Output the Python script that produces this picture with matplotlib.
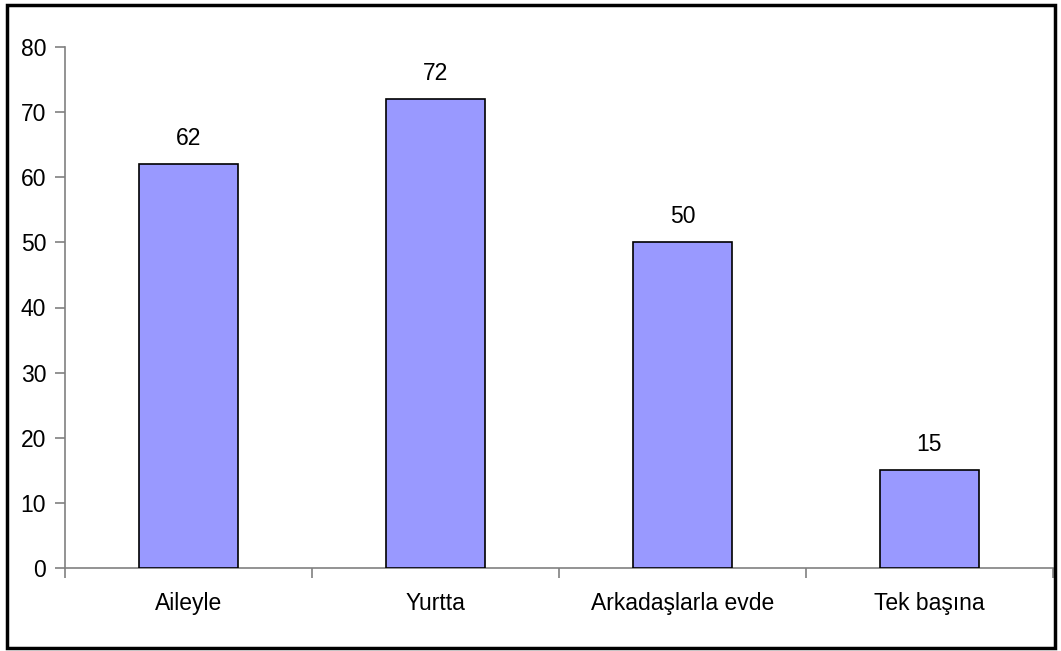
import matplotlib.pyplot as plt
import matplotlib.patches as mpatches
import numpy as np

# data
categories = ["Aileyle", "Yurtta", "Arkadaşlarla evde", "Tek başına"]
values = [62, 72, 50, 15]
y_ticks = [0, 10, 20, 30, 40, 50, 60, 70, 80]

plt.rcParams["font.family"] = ["Liberation Sans", "DejaVu Sans"]

BAR_COLOUR = "#9999FF"
AXIS_COLOUR = "#808080"
FONT_SIZE = 16.5

fig = plt.figure(figsize=(10.61, 6.51), dpi=100)
ax = fig.add_axes([65 / 1061, 1 - 568 / 651, (1053 - 65) / 1061, (568 - 47) / 651])

x = np.arange(len(categories))
bars = ax.bar(x, values, width=0.4, color=BAR_COLOUR, edgecolor="black", linewidth=1.2, zorder=3)

ax.set_xlim(-0.5, len(categories) - 0.5)
ax.set_ylim(0, 80)
ax.set_yticks(y_ticks)

# category labels, tick marks on the boundaries between categories
ax.set_xticks(x)
ax.set_xticklabels(categories, fontsize=FONT_SIZE)
ax.tick_params(axis="x", which="major", length=0, pad=17.5)
ax.set_xticks(np.arange(len(categories) + 1) - 0.5, minor=True)
ax.tick_params(axis="x", which="minor", length=7, direction="out", color=AXIS_COLOUR, width=1.2)
ax.tick_params(axis="y", length=7, direction="out", color=AXIS_COLOUR, width=1.2,
               labelsize=FONT_SIZE, pad=6.5)

for side in ["top", "right"]:
    ax.spines[side].set_visible(False)
for side in ["left", "bottom"]:
    ax.spines[side].set_color(AXIS_COLOUR)
    ax.spines[side].set_linewidth(1.2)

for bar in bars:
    ax.annotate(
        f"{bar.get_height():.0f}",
        xy=(bar.get_x() + bar.get_width() / 2, bar.get_height()),
        xytext=(0, 14), textcoords="offset points",
        ha="center", va="baseline", fontsize=FONT_SIZE
    )

# outer chart border
fig.patches.append(mpatches.Rectangle(
    (7 / 1061, 1 - 648 / 651), (1055 - 7) / 1061, (648 - 5) / 651,
    transform=fig.transFigure, fill=False, edgecolor="black", linewidth=2.5
))

fig.savefig("out.png", dpi=100)
